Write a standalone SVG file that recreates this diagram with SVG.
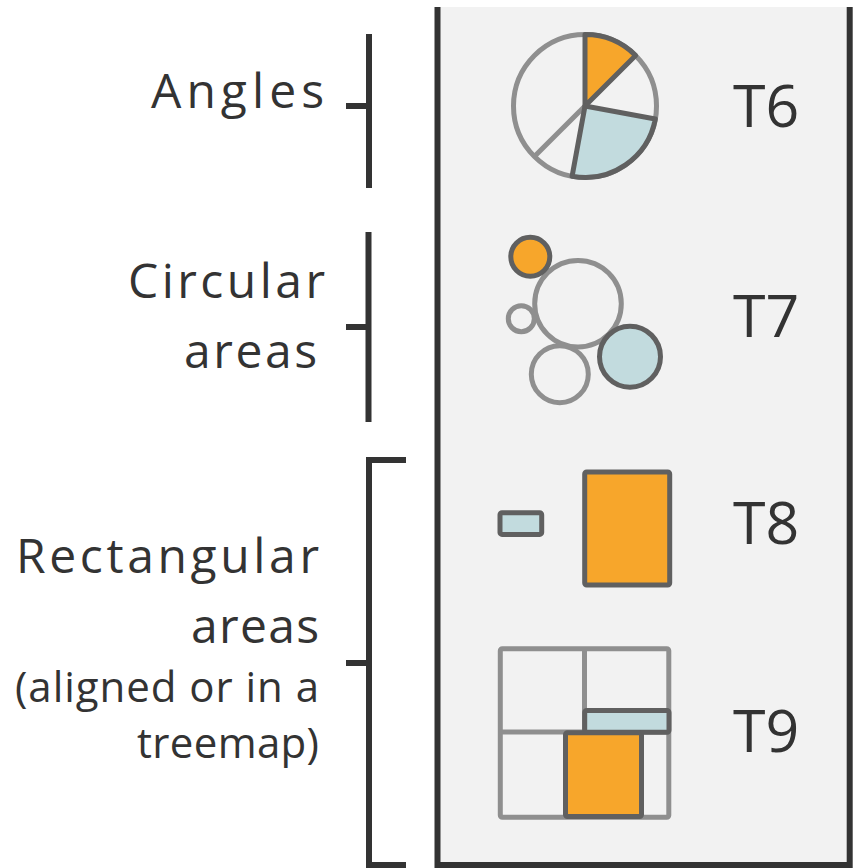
<svg xmlns="http://www.w3.org/2000/svg" width="861" height="868" viewBox="0 0 861 868">
<style>
.lbl{font-family:"Open Sans","Noto Sans","Liberation Sans",sans-serif;fill:#333333;font-size:48px}
.sm{font-size:42px}
.t{font-family:"Open Sans","Noto Sans","Liberation Sans",sans-serif;fill:#333333;font-size:59px}
.br{fill:none;stroke:#333333;stroke-width:6}
.lg{fill:none;stroke:#8f8f8f;stroke-width:5}
.dk{stroke:#606060;stroke-width:5;stroke-linejoin:round}
.or{fill:#f7a62b}
.bl{fill:#c2dbde}
</style>
<rect width="861" height="868" fill="#ffffff"/>
<g id="panel">
<rect x="440" y="7" width="407" height="856" fill="#f2f2f2"/>
<path class="br" d="M437.5,7 V865 H849.7 V7"/>
</g>
<g id="connectors">
<path class="br" d="M369,34 V188 M346,106 H369"/>
<path class="br" d="M368.5,232 V422 M346,327 H368.5"/>
<path class="br" d="M406,460 H369 V865 H406 M346,663 H369"/>
</g>
<g id="angles-label">
<text class="lbl" x="151" y="108" textLength="173" lengthAdjust="spacing">Angles</text>
</g>
<g id="circular-label">
<text class="lbl" x="128" y="298" textLength="197" lengthAdjust="spacing">Circular</text>
<text class="lbl" x="184" y="368" textLength="133" lengthAdjust="spacing">areas</text>
</g>
<g id="rect-label">
<text class="lbl" x="16" y="573" textLength="303" lengthAdjust="spacing">Rectangular</text>
<text class="lbl" x="191" y="643" textLength="128" lengthAdjust="spacing">areas</text>
<text class="lbl sm" x="15" y="702" textLength="304" lengthAdjust="spacing">(aligned or in a</text>
<text class="lbl sm" x="137" y="758" textLength="182" lengthAdjust="spacing">treemap)</text>
</g>
<g id="T6">
<circle class="lg" cx="585" cy="106" r="71.5"/>
<line class="lg" x1="585" y1="106" x2="534.4" y2="156.6"/>
<path class="or dk" d="M585,106 L585,34.5 A71.5,71.5 0 0 1 635.6,55.4 Z"/>
<path class="bl dk" d="M585,106 L655.3,119 A71.5,71.5 0 0 1 572.1,176.3 Z"/>
<text class="t" x="733" y="127">T6</text>
</g>
<g id="T7">
<circle class="lg" cx="578" cy="303.7" r="43.3"/>
<circle class="lg" cx="521.3" cy="318.7" r="13"/>
<circle class="lg" cx="559.8" cy="374.2" r="28.5"/>
<circle class="or dk" cx="530.3" cy="256.7" r="19.5"/>
<circle class="bl dk" cx="630" cy="356.7" r="30.5"/>
<text class="t" x="733" y="337">T7</text>
</g>
<g id="T8">
<rect class="bl dk" x="500" y="512.7" width="41.7" height="21.7" rx="2"/>
<rect class="or dk" x="584.7" y="472" width="85" height="113" rx="2"/>
<text class="t" x="733" y="544">T8</text>
</g>
<g id="T9">
<rect class="lg" x="500.3" y="648.7" width="168.5" height="168.5" rx="2"/>
<line class="lg" x1="584.5" y1="648.7" x2="584.5" y2="817.2"/>
<line class="lg" x1="500.3" y1="732" x2="668.8" y2="732"/>
<rect class="bl dk" x="584.7" y="710.5" width="84.3" height="21.7" rx="2"/>
<rect class="or dk" x="565.5" y="732.8" width="76" height="83.7" rx="2"/>
<text class="t" x="733" y="752">T9</text>
</g>
</svg>
